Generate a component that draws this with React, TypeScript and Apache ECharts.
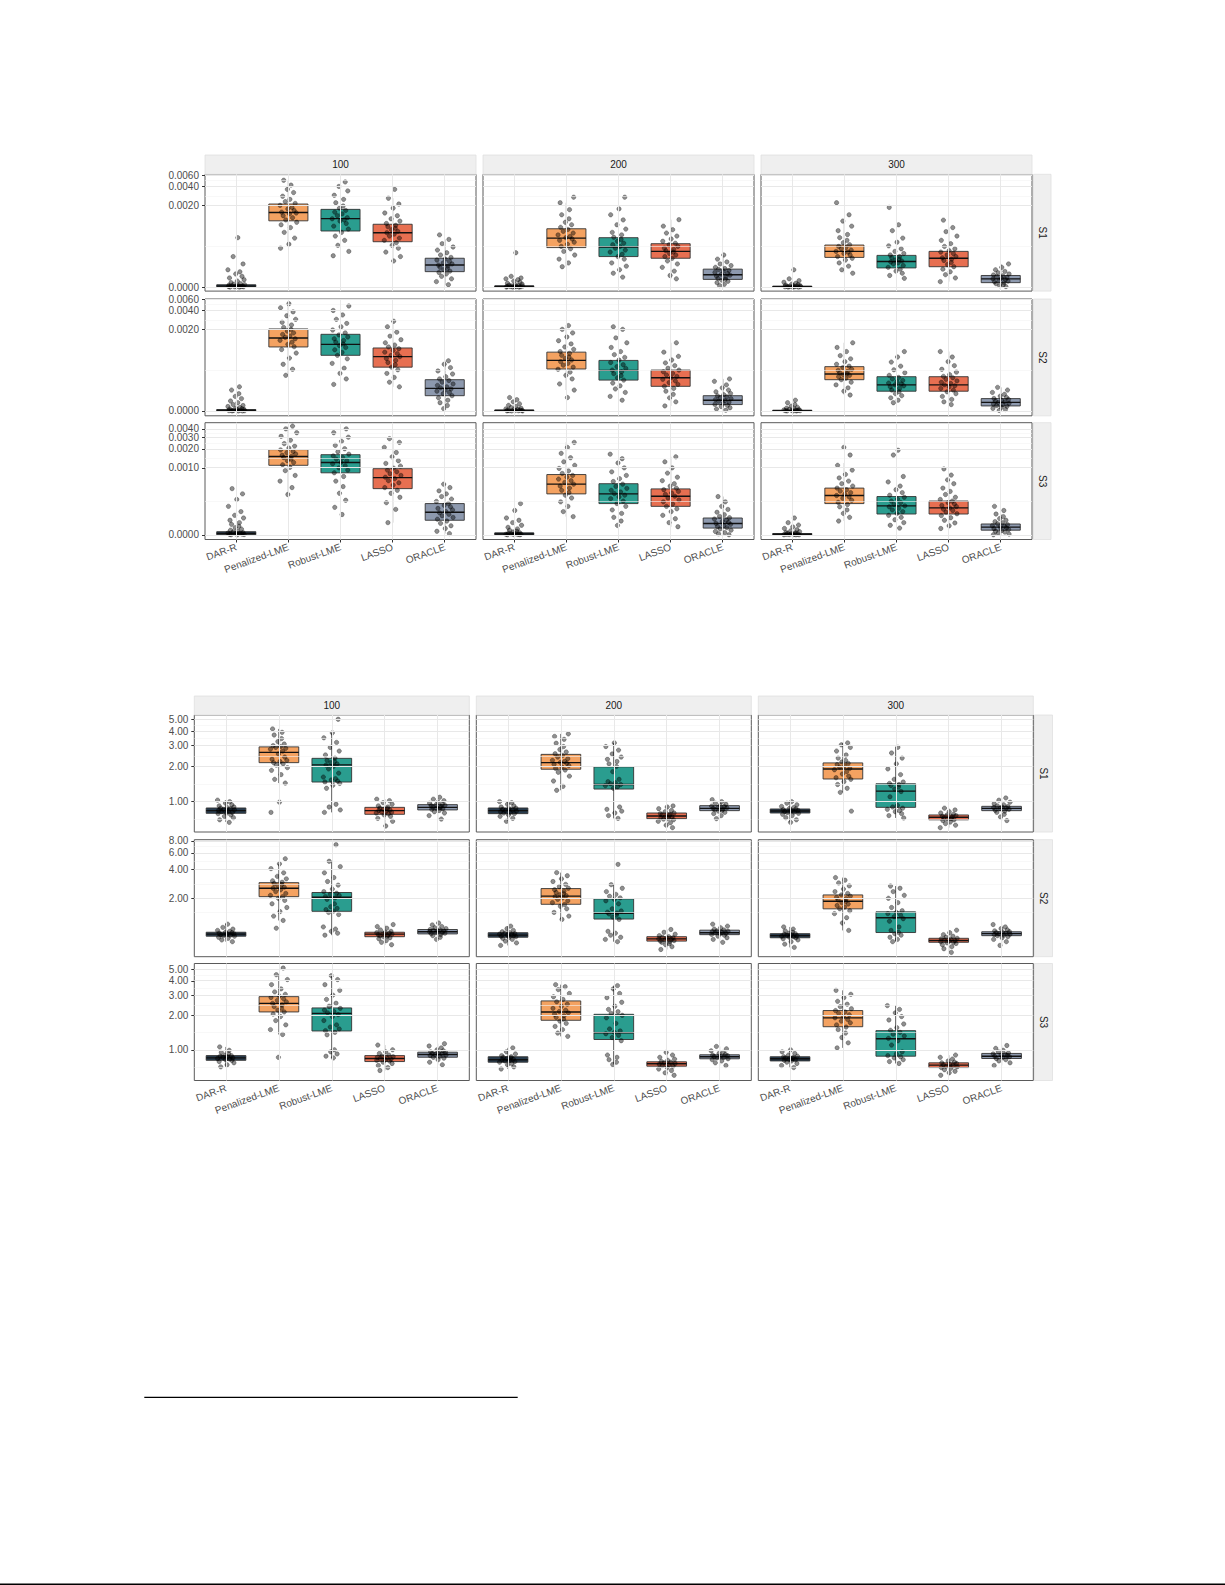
import React, { useEffect, useRef } from 'react';
import * as echarts from 'echarts';

// ---------- categories ----------
const METHODS = ['DAR-R', 'Penalized-LME', 'Robust-LME', 'LASSO', 'ORACLE'];
const SAMPLE_SIZES = ['100', '200', '300'];
const SETTINGS = ['S1', 'S2', 'S3'];
const METHOD_COLORS = ['#283C4E', '#F4A261', '#2A9D8F', '#E76F51', '#8D99AE'];
const JITTER = [0.06, -0.12, 0.14, -0.03, 0.09, -0.15, 0.01, 0.12, -0.08, 0.04, -0.14, 0.16, -0.05, 0.08, -0.1, 0.02, 0.15, -0.13, 0.11, -0.01, 0.07, -0.16, 0.13, -0.06, 0.03, -0.11, 0.1, -0.02, 0.05, -0.09];

// ---------- figure 1 (values in units of 1e-4, pseudo-log scale) ----------
const F1_UNIT = 1e-4;
const F1_SHIFT = 1.2;
const F1_TICKS = [[0, 20, 40, 60], [0, 20, 40, 60], [0, 10, 20, 30, 40]];
const F1_LIMITS = [[-0.16, 61.9], [-0.19, 60.5], [-0.175, 49.4]];

// [sample size][method] -> [lower whisker, Q1, median, Q3, upper whisker]
const F1_S1_BOX = [
  [[0, 0.01, 0.04, 0.1, 0.25], [3.9, 11.1, 15.3, 21, 50], [2.4, 7.4, 12.1, 17.2, 47], [1.8, 4.7, 6.9, 9.7, 26], [0.1, 0.86, 1.4, 2.1, 5.2]],
  [[0, 0, 0.02, 0.05, 0.15], [1.25, 3.6, 5.5, 8.1, 22], [0.5, 2.3, 3.7, 5.6, 17.7], [0.4, 2.1, 3.0, 4.3, 11.6], [0.06, 0.37, 0.65, 1.05, 2.5]],
  [[0, 0, 0.01, 0.04, 0.1], [0.75, 2.2, 3.0, 4.05, 11], [0.43, 1.15, 1.75, 2.45, 7.5], [0.25, 1.25, 2.1, 3.0, 8.5], [0.02, 0.2, 0.4, 0.6, 1.5]],
];
const F1_S1_PTS = [
  [
    [0, 0, 0.01, 0.01, 0.02, 0.02, 0.03, 0.04, 0.05, 0.06, 0.08, 0.1, 0.12, 0.15, 0.2, 0.28, 0.35, 0.45, 0.55, 0.7, 0.85, 1.0, 1.5, 2.3, 5.6],
    [3.5, 4.2, 5.5, 7, 8.5, 9.5, 10.5, 11.5, 12.5, 13.5, 14.5, 15, 15.5, 16.5, 17.5, 18.5, 20, 21.5, 23, 25, 28, 32, 36, 42, 50],
    [2.4, 3, 4, 5, 6, 7, 8, 9, 10, 11, 11.5, 12, 12.5, 13.5, 14.5, 15.5, 16.5, 18, 19.5, 22, 25, 29, 34, 40, 47],
    [1.8, 2.3, 2.9, 3.5, 4, 4.5, 5, 5.5, 6, 6.5, 6.9, 7.3, 7.8, 8.3, 8.8, 9.3, 10, 11, 12, 13.5, 15, 18, 21, 26, 36],
    [0.1, 0.25, 0.4, 0.55, 0.7, 0.8, 0.9, 1, 1.1, 1.2, 1.3, 1.4, 1.5, 1.6, 1.75, 1.9, 2, 2.2, 2.5, 2.8, 3.2, 3.7, 4.3, 5.2, 6.3],
  ],
  [
    [0, 0, 0, 0.01, 0.01, 0.02, 0.02, 0.03, 0.04, 0.05, 0.06, 0.08, 0.1, 0.13, 0.17, 0.22, 0.28, 0.35, 0.4, 0.45, 0.55, 2.8],
    [1.25, 1.6, 2, 2.5, 3, 3.4, 3.8, 4.2, 4.6, 5, 5.3, 5.6, 5.9, 6.3, 6.8, 7.3, 7.9, 8.6, 9.5, 10.5, 12, 14, 17, 22, 27],
    [0.5, 0.75, 1, 1.3, 1.6, 2, 2.3, 2.6, 2.9, 3.2, 3.5, 3.8, 4.1, 4.4, 4.8, 5.2, 5.7, 6.3, 7, 8, 9.5, 11.5, 14, 17.5, 27],
    [0.4, 0.6, 0.9, 1.2, 1.5, 1.8, 2.1, 2.3, 2.5, 2.7, 2.9, 3.1, 3.3, 3.5, 3.8, 4.1, 4.4, 4.8, 5.3, 6, 6.8, 7.8, 9, 11.6],
    [0.06, 0.12, 0.2, 0.27, 0.33, 0.38, 0.43, 0.5, 0.56, 0.62, 0.68, 0.74, 0.8, 0.88, 0.95, 1.02, 1.1, 1.2, 1.35, 1.5, 1.7, 2, 2.5],
  ],
  [
    [0, 0, 0, 0.01, 0.01, 0.02, 0.02, 0.03, 0.04, 0.05, 0.06, 0.08, 0.1, 0.13, 0.17, 0.22, 0.3, 0.4, 1.0],
    [0.75, 1, 1.3, 1.6, 1.9, 2.1, 2.3, 2.5, 2.7, 2.9, 3, 3.2, 3.4, 3.6, 3.8, 4.1, 4.5, 5, 5.6, 6.4, 7.5, 9, 11, 14, 22],
    [0.43, 0.6, 0.75, 0.9, 1.05, 1.2, 1.35, 1.5, 1.6, 1.7, 1.8, 1.9, 2, 2.15, 2.3, 2.5, 2.7, 3, 3.4, 3.9, 4.6, 5.5, 7.5, 9.5, 18.5],
    [0.25, 0.45, 0.65, 0.85, 1.05, 1.25, 1.45, 1.65, 1.85, 2, 2.15, 2.3, 2.5, 2.7, 2.9, 3.1, 3.4, 3.8, 4.3, 5, 6, 7.2, 8.5, 11.4],
    [0.02, 0.06, 0.1, 0.15, 0.2, 0.24, 0.28, 0.32, 0.36, 0.4, 0.44, 0.48, 0.53, 0.58, 0.63, 0.7, 0.78, 0.88, 1, 1.2, 1.5],
  ],
];

const F1_S2_BOX = [
  [[0, 0, 0.02, 0.06, 0.15], [3.0, 10.2, 14.4, 20.3, 51], [1.85, 7.3, 11.3, 16.6, 47], [1.6, 4.4, 6.9, 9.8, 27], [0.1, 0.85, 1.45, 2.4, 5.8]],
  [[0, 0, 0.02, 0.04, 0.1], [1.3, 4.05, 5.9, 8.3, 23], [0.55, 2.35, 3.8, 5.9, 20], [0.23, 1.65, 2.65, 3.85, 12], [0.03, 0.3, 0.55, 0.85, 2.5]],
  [[0, 0, 0.01, 0.03, 0.08], [0.9, 2.4, 3.2, 4.5, 12], [0.4, 1.2, 1.8, 2.8, 8.5], [0.3, 1.2, 1.8, 2.8, 8.5], [0.02, 0.23, 0.42, 0.65, 1.55]],
];
const F1_S2_PTS = [
  [
    [0, 0, 0, 0.01, 0.01, 0.02, 0.03, 0.04, 0.05, 0.06, 0.08, 0.1, 0.12, 0.15, 0.2, 0.25, 0.3, 0.4, 0.5, 0.65, 0.8, 1.0, 1.3, 1.6],
    [3, 4, 5, 6.5, 8, 9.2, 10.3, 11.3, 12.3, 13.2, 14, 14.8, 15.6, 16.5, 17.5, 18.7, 20, 21.5, 23.5, 26, 29, 33, 38, 44, 51],
    [1.85, 2.5, 3.3, 4.2, 5.2, 6.3, 7.3, 8.2, 9.1, 10, 10.8, 11.5, 12.3, 13.1, 14, 15, 16.2, 17.5, 19.5, 22, 25, 29, 34, 40, 47],
    [1.6, 2.1, 2.7, 3.3, 3.9, 4.4, 4.9, 5.4, 5.9, 6.4, 6.9, 7.3, 7.8, 8.3, 8.9, 9.5, 10.2, 11, 12, 13.5, 15.5, 18, 22, 27],
    [0.1, 0.25, 0.4, 0.55, 0.7, 0.85, 1, 1.1, 1.2, 1.3, 1.4, 1.5, 1.6, 1.75, 1.9, 2.1, 2.3, 2.5, 2.8, 3.2, 3.7, 4.3, 5, 5.8],
  ],
  [
    [0, 0, 0, 0.01, 0.01, 0.02, 0.02, 0.03, 0.04, 0.05, 0.07, 0.09, 0.12, 0.15, 0.2, 0.26, 0.34, 0.45, 0.58, 0.72],
    [0.72, 1.3, 1.9, 2.5, 3, 3.5, 4, 4.4, 4.8, 5.2, 5.6, 6, 6.4, 6.8, 7.3, 7.9, 8.5, 9.3, 10.2, 11.5, 13, 15, 17.5, 20, 23],
    [0.55, 0.8, 1.1, 1.4, 1.7, 2, 2.35, 2.65, 2.95, 3.25, 3.55, 3.85, 4.15, 4.5, 4.9, 5.4, 6, 6.7, 7.5, 8.5, 10, 12, 14.5, 20, 22],
    [0.23, 0.45, 0.7, 0.95, 1.2, 1.45, 1.65, 1.85, 2.05, 2.25, 2.45, 2.65, 2.85, 3.05, 3.3, 3.55, 3.85, 4.2, 4.7, 5.3, 6, 7, 8.3, 12],
    [0.03, 0.08, 0.14, 0.2, 0.26, 0.31, 0.36, 0.42, 0.48, 0.53, 0.58, 0.64, 0.7, 0.77, 0.84, 0.92, 1.02, 1.15, 1.3, 1.5, 1.8, 2.2, 2.5],
  ],
  [
    [0, 0, 0, 0.01, 0.01, 0.02, 0.02, 0.03, 0.04, 0.05, 0.07, 0.09, 0.12, 0.16, 0.22, 0.3, 0.4, 0.55],
    [0.9, 1.2, 1.5, 1.8, 2.1, 2.4, 2.6, 2.8, 3, 3.1, 3.25, 3.4, 3.6, 3.8, 4, 4.3, 4.6, 5, 5.6, 6.3, 7.2, 8.5, 10, 12],
    [0.4, 0.55, 0.7, 0.85, 1, 1.15, 1.3, 1.45, 1.6, 1.7, 1.8, 1.9, 2, 2.15, 2.3, 2.5, 2.7, 3, 3.4, 3.9, 4.6, 5.5, 6.8, 8.5],
    [0.3, 0.45, 0.6, 0.8, 1, 1.15, 1.3, 1.45, 1.6, 1.7, 1.8, 1.95, 2.1, 2.25, 2.45, 2.65, 2.85, 3.1, 3.5, 4, 4.7, 5.6, 6.8, 8.5],
    [0.02, 0.06, 0.11, 0.16, 0.21, 0.25, 0.29, 0.33, 0.37, 0.41, 0.45, 0.5, 0.55, 0.6, 0.66, 0.73, 0.82, 0.95, 1.1, 1.3, 1.55],
  ],
];

const F1_S3_BOX = [
  [[0, 0, 0.05, 0.13, 0.3], [3.4, 11, 15.2, 19.4, 44], [1.16, 8.3, 12.2, 16.2, 40], [0.6, 4.4, 6.9, 9.7, 28.5], [0.05, 0.75, 1.35, 2.2, 5.3]],
  [[0, 0, 0.03, 0.08, 0.2], [1.0, 3.5, 5.3, 7.76, 25], [0.44, 2.2, 3.5, 5.4, 16.5], [0.37, 1.9, 3.15, 4.35, 15], [0, 0.3, 0.55, 0.9, 3.1]],
  [[0, 0, 0.02, 0.05, 0.12], [0.7, 2.2, 3.25, 4.5, 12], [0.3, 1.2, 1.95, 3.1, 8], [0.28, 1.2, 1.75, 2.5, 6.3], [0, 0.2, 0.35, 0.52, 1.2]],
];
const F1_S3_PTS = [
  [
    [0, 0, 0.01, 0.02, 0.03, 0.04, 0.05, 0.07, 0.09, 0.12, 0.15, 0.2, 0.25, 0.32, 0.4, 0.5, 0.6, 0.75, 0.9, 1.1, 1.4, 1.9, 2.7, 3.5, 4.4],
    [3.4, 4.6, 6, 7.5, 9, 10.2, 11.2, 12.2, 13, 13.8, 14.6, 15.2, 15.9, 16.6, 17.4, 18.2, 19.2, 20.5, 22, 24, 27, 31, 35, 40, 44],
    [1.16, 1.8, 2.6, 3.6, 4.8, 6, 7.2, 8.3, 9.2, 10, 10.8, 11.6, 12.3, 13, 13.8, 14.6, 15.5, 16.5, 18, 20, 22.5, 26, 30, 35, 40],
    [0.6, 1.6, 2.3, 3, 3.6, 4.1, 4.6, 5.1, 5.6, 6.1, 6.6, 7, 7.5, 8, 8.6, 9.2, 9.9, 10.7, 11.8, 13, 15, 17.5, 21, 25, 28.5],
    [0.05, 0.15, 0.28, 0.42, 0.56, 0.7, 0.82, 0.94, 1.06, 1.18, 1.3, 1.42, 1.55, 1.7, 1.85, 2, 2.2, 2.45, 2.75, 3.1, 3.5, 4, 4.6, 5.3],
  ],
  [
    [0, 0, 0.01, 0.01, 0.02, 0.03, 0.04, 0.05, 0.07, 0.09, 0.12, 0.15, 0.2, 0.26, 0.34, 0.45, 0.6, 0.75, 0.9, 1.5, 2.2],
    [1, 1.4, 1.9, 2.4, 2.9, 3.3, 3.7, 4.1, 4.5, 4.9, 5.3, 5.7, 6.1, 6.5, 7, 7.5, 8.1, 8.9, 9.8, 11, 12.5, 14.5, 17, 21, 25],
    [0.44, 0.7, 0.95, 1.25, 1.55, 1.9, 2.2, 2.5, 2.8, 3.05, 3.3, 3.55, 3.8, 4.1, 4.45, 4.85, 5.3, 5.9, 6.6, 7.5, 8.6, 10, 12, 14, 16.5],
    [0.37, 0.6, 0.85, 1.1, 1.4, 1.65, 1.9, 2.15, 2.4, 2.65, 2.9, 3.15, 3.4, 3.65, 3.9, 4.2, 4.5, 4.9, 5.4, 6.1, 7, 8.2, 10, 12.5, 15],
    [0, 0.04, 0.09, 0.14, 0.2, 0.26, 0.32, 0.38, 0.44, 0.5, 0.56, 0.62, 0.68, 0.75, 0.83, 0.92, 1.02, 1.15, 1.35, 1.6, 1.9, 2.4, 3.1],
  ],
  [
    [0, 0, 0, 0.01, 0.01, 0.02, 0.03, 0.04, 0.05, 0.06, 0.08, 0.1, 0.13, 0.17, 0.22, 0.28, 0.36, 0.46, 0.6, 0.9],
    [0.7, 0.95, 1.25, 1.55, 1.85, 2.1, 2.35, 2.6, 2.85, 3.05, 3.25, 3.45, 3.7, 3.95, 4.2, 4.5, 4.9, 5.4, 6, 6.8, 7.8, 9.2, 11, 16, 21],
    [0.3, 0.45, 0.6, 0.78, 0.95, 1.1, 1.25, 1.4, 1.55, 1.7, 1.85, 1.95, 2.1, 2.3, 2.5, 2.75, 3, 3.3, 3.7, 4.2, 4.9, 5.8, 7.2, 16, 19],
    [0.28, 0.42, 0.58, 0.75, 0.92, 1.08, 1.22, 1.36, 1.5, 1.62, 1.75, 1.88, 2, 2.15, 2.3, 2.5, 2.7, 3, 3.4, 3.9, 4.5, 5.4, 6.3, 7.6, 9.6],
    [0, 0.03, 0.07, 0.11, 0.15, 0.19, 0.23, 0.27, 0.31, 0.35, 0.39, 0.43, 0.48, 0.53, 0.59, 0.66, 0.75, 0.86, 1, 1.2, 1.5, 1.9],
  ],
];

// ---------- figure 2 (log scale) ----------
const F2_TICKS = [[1, 2, 3, 4, 5], [2, 4, 6, 8], [1, 2, 3, 4, 5]];
const F2_LIMITS = [[0.551, 5.48], [0.487, 8.25], [0.54, 5.66]];

const F2_S1_BOX = [
  [[0.67, 0.795, 0.838, 0.883, 1.03], [1.44, 2.15, 2.63, 2.93, 4.17], [0.81, 1.47, 2.06, 2.34, 3.86], [0.62, 0.78, 0.838, 0.894, 1.05], [0.71, 0.85, 0.894, 0.943, 1.09]],
  [[0.68, 0.79, 0.838, 0.883, 1.0], [1.25, 1.89, 2.15, 2.53, 3.78], [0.72, 1.28, 1.4, 1.98, 3.17], [0.6, 0.716, 0.755, 0.8, 0.92], [0.716, 0.838, 0.877, 0.924, 1.04]],
  [[0.666, 0.8, 0.833, 0.866, 1.0], [1.2, 1.56, 1.9, 2.14, 3.17], [0.726, 0.894, 1.23, 1.42, 2.91], [0.6, 0.7, 0.735, 0.77, 0.88], [0.69, 0.838, 0.877, 0.912, 1.075]],
];
const F2_S1_PTS = [
  [
    [0.666, 0.7, 0.73, 0.75, 0.77, 0.79, 0.8, 0.81, 0.82, 0.83, 0.84, 0.85, 0.86, 0.87, 0.88, 0.89, 0.9, 0.92, 0.94, 0.97, 1.0, 1.03],
    [0.81, 0.99, 1.44, 1.55, 1.7, 1.85, 1.95, 2.05, 2.1, 2.15, 2.2, 2.25, 2.3, 2.4, 2.55, 2.7, 2.8, 2.85, 2.9, 2.95, 3.0, 3.1, 3.25, 3.45, 3.7, 3.9, 4.17],
    [0.81, 0.85, 0.9, 0.95, 1.3, 1.38, 1.43, 1.47, 1.5, 1.53, 1.57, 1.62, 1.75, 1.9, 2.0, 2.05, 2.1, 2.15, 2.2, 2.25, 2.35, 2.5, 2.7, 2.9, 3.2, 3.5, 3.86, 5.04],
    [0.62, 0.68, 0.72, 0.75, 0.77, 0.79, 0.8, 0.81, 0.82, 0.83, 0.84, 0.85, 0.86, 0.87, 0.88, 0.9, 0.92, 0.95, 0.98, 1.02, 1.05],
    [0.71, 0.76, 0.8, 0.82, 0.84, 0.86, 0.87, 0.88, 0.89, 0.9, 0.91, 0.92, 0.93, 0.94, 0.95, 0.97, 0.99, 1.02, 1.05, 1.09],
  ],
  [
    [0.68, 0.72, 0.75, 0.77, 0.79, 0.8, 0.81, 0.82, 0.83, 0.84, 0.85, 0.86, 0.87, 0.88, 0.9, 0.92, 0.95, 0.98, 1.0],
    [1.25, 1.35, 1.5, 1.65, 1.78, 1.86, 1.92, 1.98, 2.03, 2.08, 2.12, 2.16, 2.2, 2.25, 2.32, 2.4, 2.48, 2.56, 2.65, 2.78, 2.95, 3.15, 3.4, 3.6, 3.78],
    [0.72, 0.76, 0.8, 0.83, 0.86, 0.9, 1.3, 1.34, 1.37, 1.4, 1.42, 1.45, 1.48, 1.55, 1.8, 2.0, 2.1, 2.2, 2.3, 2.4, 2.55, 2.75, 2.95, 3.17],
    [0.6, 0.63, 0.66, 0.68, 0.7, 0.71, 0.72, 0.73, 0.74, 0.75, 0.76, 0.77, 0.78, 0.79, 0.8, 0.82, 0.84, 0.87, 0.9, 0.92],
    [0.716, 0.76, 0.79, 0.81, 0.83, 0.845, 0.855, 0.865, 0.875, 0.885, 0.895, 0.905, 0.915, 0.93, 0.95, 0.97, 1.0, 1.04],
  ],
  [
    [0.666, 0.7, 0.73, 0.76, 0.78, 0.795, 0.805, 0.815, 0.825, 0.835, 0.845, 0.855, 0.865, 0.875, 0.89, 0.91, 0.94, 0.97, 1.0],
    [0.83, 1.2, 1.3, 1.4, 1.48, 1.55, 1.6, 1.65, 1.72, 1.8, 1.87, 1.92, 1.97, 2.02, 2.07, 2.12, 2.18, 2.25, 2.35, 2.5, 2.7, 2.9, 3.05, 3.17],
    [0.726, 0.76, 0.79, 0.82, 0.84, 0.86, 0.88, 0.9, 0.93, 1.1, 1.22, 1.28, 1.33, 1.37, 1.4, 1.43, 1.47, 1.55, 1.7, 1.9, 2.1, 2.35, 2.6, 2.91],
    [0.6, 0.63, 0.65, 0.67, 0.69, 0.7, 0.71, 0.72, 0.73, 0.74, 0.75, 0.76, 0.77, 0.78, 0.8, 0.82, 0.85, 0.88],
    [0.69, 0.74, 0.78, 0.81, 0.83, 0.845, 0.86, 0.87, 0.88, 0.89, 0.9, 0.91, 0.92, 0.94, 0.96, 0.99, 1.03, 1.075],
  ],
];

const F2_S2_BOX = [
  [[0.7, 0.8, 0.84, 0.88, 1.07], [1.17, 2.08, 2.55, 2.92, 4.6], [0.82, 1.46, 2.05, 2.3, 4.9], [0.65, 0.79, 0.84, 0.88, 1.06], [0.74, 0.845, 0.89, 0.94, 1.1]],
  [[0.64, 0.78, 0.82, 0.87, 1.02], [1.2, 1.73, 2.11, 2.53, 3.72], [0.7, 1.21, 1.39, 1.97, 2.78], [0.58, 0.71, 0.75, 0.79, 0.94], [0.69, 0.83, 0.87, 0.925, 1.07]],
  [[0.61, 0.77, 0.81, 0.85, 1.0], [0.92, 1.55, 1.86, 2.17, 3.3], [0.7, 0.874, 1.25, 1.44, 2.69], [0.54, 0.69, 0.72, 0.76, 0.925], [0.64, 0.81, 0.85, 0.89, 1.06]],
];
const F2_S2_PTS = [
  [
    [0.7, 0.73, 0.76, 0.78, 0.8, 0.81, 0.82, 0.83, 0.84, 0.85, 0.86, 0.87, 0.88, 0.9, 0.92, 0.95, 0.99, 1.07],
    [0.97, 1.17, 1.3, 1.45, 1.6, 1.75, 1.9, 2.0, 2.08, 2.15, 2.25, 2.35, 2.45, 2.55, 2.62, 2.7, 2.78, 2.86, 2.95, 3.05, 3.2, 3.4, 3.7, 4.1, 4.6, 5.2],
    [0.82, 0.86, 0.9, 0.95, 1.0, 1.35, 1.42, 1.47, 1.52, 1.57, 1.63, 1.75, 1.95, 2.02, 2.08, 2.14, 2.2, 2.26, 2.35, 2.5, 2.75, 3.0, 3.3, 3.7, 4.3, 4.9, 7.3],
    [0.65, 0.69, 0.72, 0.75, 0.77, 0.79, 0.8, 0.81, 0.82, 0.83, 0.84, 0.85, 0.86, 0.87, 0.88, 0.9, 0.93, 0.97, 1.01, 1.06],
    [0.74, 0.78, 0.81, 0.83, 0.85, 0.86, 0.87, 0.88, 0.89, 0.9, 0.91, 0.92, 0.93, 0.94, 0.96, 0.98, 1.01, 1.05, 1.1],
  ],
  [
    [0.64, 0.68, 0.71, 0.74, 0.76, 0.78, 0.79, 0.8, 0.81, 0.82, 0.83, 0.84, 0.85, 0.86, 0.87, 0.89, 0.92, 0.96, 1.02],
    [1.2, 1.3, 1.42, 1.55, 1.65, 1.72, 1.8, 1.88, 1.95, 2.02, 2.08, 2.13, 2.18, 2.24, 2.3, 2.38, 2.46, 2.55, 2.65, 2.8, 3.0, 3.2, 3.45, 3.72],
    [0.7, 0.74, 0.78, 0.82, 0.86, 0.9, 1.2, 1.27, 1.33, 1.37, 1.4, 1.43, 1.47, 1.55, 1.75, 1.88, 1.95, 2.02, 2.1, 2.2, 2.35, 2.55, 2.78, 4.55],
    [0.58, 0.62, 0.65, 0.67, 0.69, 0.7, 0.71, 0.72, 0.73, 0.74, 0.75, 0.76, 0.77, 0.78, 0.79, 0.81, 0.84, 0.88, 0.94],
    [0.69, 0.74, 0.77, 0.8, 0.82, 0.835, 0.85, 0.86, 0.87, 0.88, 0.89, 0.9, 0.91, 0.93, 0.95, 0.98, 1.02, 1.07],
  ],
  [
    [0.61, 0.66, 0.7, 0.73, 0.75, 0.77, 0.78, 0.79, 0.8, 0.81, 0.82, 0.83, 0.84, 0.85, 0.86, 0.88, 0.91, 0.95, 1.0],
    [0.92, 1.1, 1.25, 1.38, 1.48, 1.55, 1.62, 1.68, 1.74, 1.8, 1.86, 1.92, 1.98, 2.04, 2.1, 2.17, 2.25, 2.35, 2.5, 2.7, 2.9, 3.1, 3.3],
    [0.7, 0.74, 0.78, 0.82, 0.85, 0.88, 0.92, 1.0, 1.15, 1.22, 1.28, 1.33, 1.38, 1.42, 1.48, 1.6, 1.8, 2.0, 2.15, 2.35, 2.55, 2.69],
    [0.54, 0.59, 0.62, 0.65, 0.67, 0.68, 0.69, 0.7, 0.71, 0.72, 0.73, 0.74, 0.75, 0.76, 0.78, 0.8, 0.83, 0.87, 0.925],
    [0.64, 0.7, 0.74, 0.77, 0.79, 0.81, 0.82, 0.83, 0.84, 0.85, 0.86, 0.87, 0.88, 0.89, 0.91, 0.93, 0.96, 1.0, 1.06],
  ],
];

const F2_S3_BOX = [
  [[0.71, 0.81, 0.85, 0.89, 1.06], [1.36, 2.14, 2.54, 2.91, 4.52], [0.85, 1.46, 2.08, 2.32, 4.43], [0.66, 0.79, 0.84, 0.89, 1.1], [0.74, 0.862, 0.91, 0.953, 1.13]],
  [[0.68, 0.78, 0.82, 0.87, 1.04], [1.31, 1.81, 2.14, 2.67, 3.7], [0.745, 1.23, 1.41, 2.04, 3.63], [0.6, 0.72, 0.755, 0.786, 0.95], [0.73, 0.835, 0.87, 0.905, 1.07]],
  [[0.7, 0.8, 0.835, 0.87, 1.0], [1.04, 1.59, 1.9, 2.2, 3.3], [0.76, 0.88, 1.25, 1.47, 2.43], [0.6, 0.7, 0.735, 0.77, 0.9], [0.73, 0.84, 0.88, 0.93, 1.09]],
];
const F2_S3_PTS = [
  [
    [0.71, 0.74, 0.77, 0.79, 0.81, 0.82, 0.83, 0.84, 0.85, 0.86, 0.87, 0.88, 0.89, 0.9, 0.92, 0.95, 0.99, 1.06],
    [0.86, 1.36, 1.5, 1.65, 1.8, 1.95, 2.05, 2.14, 2.22, 2.3, 2.38, 2.46, 2.54, 2.62, 2.7, 2.78, 2.86, 2.94, 3.05, 3.2, 3.4, 3.7, 4.1, 4.52, 5.17],
    [0.85, 0.88, 0.92, 0.96, 1.0, 1.35, 1.42, 1.47, 1.52, 1.58, 1.65, 1.8, 1.95, 2.03, 2.1, 2.16, 2.22, 2.3, 2.4, 2.55, 2.75, 3.0, 3.3, 3.7, 4.1, 4.43],
    [0.66, 0.7, 0.73, 0.76, 0.78, 0.8, 0.81, 0.82, 0.83, 0.84, 0.85, 0.86, 0.87, 0.88, 0.9, 0.93, 0.96, 1.0, 1.1],
    [0.74, 0.78, 0.82, 0.845, 0.86, 0.875, 0.89, 0.9, 0.91, 0.92, 0.93, 0.94, 0.95, 0.96, 0.98, 1.0, 1.04, 1.08, 1.13],
  ],
  [
    [0.68, 0.71, 0.74, 0.76, 0.78, 0.79, 0.8, 0.81, 0.82, 0.83, 0.84, 0.85, 0.86, 0.87, 0.89, 0.92, 0.96, 1.04],
    [1.31, 1.4, 1.5, 1.6, 1.7, 1.78, 1.85, 1.92, 1.98, 2.04, 2.1, 2.16, 2.22, 2.3, 2.4, 2.5, 2.62, 2.75, 2.9, 3.1, 3.35, 3.55, 3.7],
    [0.745, 0.78, 0.82, 0.86, 0.9, 1.2, 1.28, 1.34, 1.38, 1.42, 1.46, 1.52, 1.7, 1.9, 2.0, 2.08, 2.15, 2.25, 2.4, 2.6, 2.85, 3.1, 3.4, 3.63],
    [0.6, 0.63, 0.66, 0.68, 0.7, 0.72, 0.73, 0.74, 0.75, 0.76, 0.77, 0.78, 0.79, 0.81, 0.83, 0.86, 0.9, 0.95],
    [0.73, 0.77, 0.8, 0.82, 0.835, 0.85, 0.86, 0.87, 0.88, 0.89, 0.9, 0.91, 0.93, 0.95, 0.98, 1.02, 1.07],
  ],
  [
    [0.7, 0.73, 0.76, 0.78, 0.8, 0.81, 0.82, 0.83, 0.84, 0.85, 0.86, 0.87, 0.88, 0.9, 0.93, 0.96, 1.0],
    [1.04, 1.15, 1.28, 1.4, 1.5, 1.58, 1.65, 1.72, 1.78, 1.84, 1.9, 1.96, 2.02, 2.08, 2.14, 2.2, 2.28, 2.38, 2.5, 2.65, 2.85, 3.05, 3.3],
    [0.76, 0.79, 0.82, 0.85, 0.87, 0.89, 0.92, 0.96, 1.1, 1.2, 1.26, 1.32, 1.37, 1.42, 1.48, 1.56, 1.68, 1.82, 1.95, 2.1, 2.25, 2.43],
    [0.6, 0.63, 0.65, 0.67, 0.69, 0.7, 0.71, 0.72, 0.73, 0.74, 0.75, 0.76, 0.77, 0.78, 0.8, 0.83, 0.86, 0.9],
    [0.73, 0.77, 0.8, 0.82, 0.84, 0.855, 0.87, 0.88, 0.89, 0.9, 0.91, 0.92, 0.94, 0.96, 0.99, 1.03, 1.09],
  ],
];

// ---------- layout & style ----------
const FONT = "'Liberation Sans', Arial, Helvetica, sans-serif";
const LABEL_COLOR = '#4D4D4D';
const STRIP_FILL = '#EFEFEF';
const STRIP_STROKE = '#E0E0E0';
const GRID_MAJOR = { color: '#E8E8E8', width: 1, type: 'solid' };
const GRID_MINOR = { color: '#F3F3F3', width: 0.6, type: 'solid' };

const FIG1_LAYOUT = { cols: [205, 483, 761], width: 271, rows: [174.3, 299, 422.7], height: 116.8, stripTop: 155, stripH: 19.3, rightX: 1033.5, rightW: 17.5 };
const FIG2_LAYOUT = { cols: [194.3, 476.3, 758.3], width: 275, rows: [715, 839.7, 963.5], height: 117, stripTop: 696, stripH: 19, rightX: 1034.5, rightW: 18 };

const f1T = (v: number) => Math.log(v + F1_SHIFT);
const f2T = (v: number) => Math.log(v);

function breaks(ticks: number[], tf: (v: number) => number, lim: number[]) {
  const b = ticks.map(tf);
  const lo = tf(lim[0]);
  const hi = tf(lim[1]);
  const bd = b[1] - b[0];
  const ext = b.slice();
  if (lo < b[0]) ext.unshift(b[0] - bd);
  if (hi > b[b.length - 1]) ext.push(b[b.length - 1] + bd);
  const minor: number[] = [];
  for (let i = 0; i < ext.length - 1; i++) minor.push((ext[i] + ext[i + 1]) / 2);
  return {
    major: b.filter((v) => v >= lo && v <= hi),
    minor: minor.filter((v) => v >= lo && v <= hi),
  };
}

function renderBox(params: any, api: any) {
  const x = api.value(0);
  const lo = api.coord([x, api.value(1)]);
  const q1 = api.coord([x, api.value(2)]);
  const md = api.coord([x, api.value(3)]);
  const q3 = api.coord([x, api.value(4)]);
  const hi = api.coord([x, api.value(5)]);
  const w = api.size([0.75, 0])[0];
  const color = METHOD_COLORS[api.value(6)];
  const line = { stroke: '#262626', lineWidth: 0.9 };
  return {
    type: 'group',
    children: [
      { type: 'line', shape: { x1: lo[0], y1: lo[1], x2: q1[0], y2: q1[1] }, style: line },
      { type: 'line', shape: { x1: q3[0], y1: q3[1], x2: hi[0], y2: hi[1] }, style: line },
      { type: 'rect', shape: { x: q3[0] - w / 2, y: q3[1], width: w, height: Math.max(q1[1] - q3[1], 1.2) }, style: { fill: color, stroke: '#333333', lineWidth: 0.9 } },
      { type: 'line', shape: { x1: md[0] - w / 2, y1: md[1], x2: md[0] + w / 2, y2: md[1] }, style: { stroke: '#111111', lineWidth: 1.4 } },
    ],
  };
}

function yLabel(tv: number[], ticks: number[], fmt: (t: number) => string, values: number[]) {
  return {
    show: true, customValues: values, margin: 6, fontSize: 10, fontFamily: FONT, color: LABEL_COLOR,
    showMinLabel: true, showMaxLabel: true, hideOverlap: false,
    formatter: (v: number) => {
      let best = 0;
      tv.forEach((t, i) => { if (Math.abs(t - v) < Math.abs(tv[best] - v)) best = i; });
      return fmt(ticks[best]);
    },
  };
}

function buildOption() {
  const grid: any[] = [];
  const xAxis: any[] = [];
  const yAxis: any[] = [];
  const extraY: any[] = [];
  const series: any[] = [];
  const graphic: any[] = [];

  const figures = [
    { L: FIG1_LAYOUT, boxes: [F1_S1_BOX, F1_S2_BOX, F1_S3_BOX], pts: [F1_S1_PTS, F1_S2_PTS, F1_S3_PTS], ticks: F1_TICKS, lims: F1_LIMITS, tf: f1T, fmt: (t: number) => (t * F1_UNIT).toFixed(4) },
    { L: FIG2_LAYOUT, boxes: [F2_S1_BOX, F2_S2_BOX, F2_S3_BOX], pts: [F2_S1_PTS, F2_S2_PTS, F2_S3_PTS], ticks: F2_TICKS, lims: F2_LIMITS, tf: f2T, fmt: (t: number) => t.toFixed(2) },
  ];

  figures.forEach((fig) => {
    const L = fig.L;
    SAMPLE_SIZES.forEach((n, c) => {
      graphic.push({ type: 'rect', shape: { x: L.cols[c], y: L.stripTop, width: L.width, height: L.stripH }, style: { fill: STRIP_FILL, stroke: STRIP_STROKE, lineWidth: 0.8 }, silent: true });
      graphic.push({ type: 'text', x: L.cols[c] + L.width / 2, y: L.stripTop + L.stripH / 2, style: { text: n, fontSize: 10, fontFamily: FONT, fill: '#1A1A1A', align: 'center', verticalAlign: 'middle', textAlign: 'center', textVerticalAlign: 'middle' }, silent: true });
    });
    SETTINGS.forEach((s, r) => {
      graphic.push({ type: 'rect', shape: { x: L.rightX, y: L.rows[r], width: L.rightW, height: L.height }, style: { fill: STRIP_FILL, stroke: STRIP_STROKE, lineWidth: 0.8 }, silent: true });
      graphic.push({ type: 'text', x: L.rightX + L.rightW / 2, y: L.rows[r] + L.height / 2, rotation: -Math.PI / 2, style: { text: s, fontSize: 10, fontFamily: FONT, fill: '#1A1A1A', align: 'center', verticalAlign: 'middle', textAlign: 'center', textVerticalAlign: 'middle' }, silent: true });
    });

    for (let r = 0; r < 3; r++) {
      const ticks = fig.ticks[r];
      const tv = ticks.map(fig.tf);
      const br = breaks(ticks, fig.tf, fig.lims[r]);
      const yMin = fig.tf(fig.lims[r][0]);
      const yMax = fig.tf(fig.lims[r][1]);
      for (let c = 0; c < 3; c++) {
        const gi = grid.length;
        grid.push({ left: L.cols[c], top: L.rows[r], width: L.width, height: L.height, show: true, backgroundColor: '#FFFFFF', borderColor: '#5A5A5A', borderWidth: 1, containLabel: false, outerBoundsMode: 'none' });
        const bottomRow = r === 2;
        const leftCol = c === 0;
        xAxis.push({
          gridIndex: gi, type: 'value', min: 0.4, max: 5.6,
          axisLine: { show: false }, splitLine: { show: false },
          axisTick: bottomRow ? { show: true, customValues: [1, 2, 3, 4, 5], length: 3, lineStyle: { color: '#333333', width: 1 } } : { show: false },
          axisLabel: bottomRow ? { show: true, customValues: [1, 2, 3, 4, 5], formatter: (v: number) => METHODS[Math.round(v) - 1], rotate: 20, margin: 7, fontSize: 10, fontFamily: FONT, color: LABEL_COLOR, hideOverlap: false, showMinLabel: true, showMaxLabel: true } : { show: false },
        });
        yAxis.push({
          gridIndex: gi, type: 'value', min: yMin, max: yMax,
          axisLine: { show: false }, splitLine: { show: false },
          axisTick: leftCol ? { show: true, customValues: tv, length: 3, lineStyle: { color: '#333333', width: 1 } } : { show: false },
          axisLabel: leftCol ? yLabel(tv, ticks, fig.fmt, tv.slice(0, tv.length - 1)) : { show: false },
        });
        if (leftCol) {
          // the top tick label sits on its own label-only axis so that crowded labels are all kept
          extraY.push({
            gridIndex: gi, type: 'value', min: yMin, max: yMax, position: 'left',
            axisLine: { show: false }, splitLine: { show: false }, axisTick: { show: false },
            axisLabel: yLabel(tv, ticks, fig.fmt, [tv[tv.length - 1]]),
          });
        }

        series.push({
          type: 'scatter', xAxisIndex: gi, yAxisIndex: gi, data: [], z: 1, silent: true,
          markLine: {
            silent: true, symbol: ['none', 'none'], label: { show: false }, animation: false,
            data: [
              ...br.minor.map((y) => ({ yAxis: y, lineStyle: GRID_MINOR })),
              ...br.major.map((y) => ({ yAxis: y, lineStyle: GRID_MAJOR })),
              ...[1, 2, 3, 4, 5].map((x) => ({ xAxis: x, lineStyle: GRID_MAJOR })),
            ],
          },
        });

        const boxRows = fig.boxes[r][c];
        series.push({
          type: 'custom', xAxisIndex: gi, yAxisIndex: gi, z: 2, silent: true, clip: true,
          dimensions: ['x', 'lo', 'q1', 'med', 'q3', 'hi', 'm'],
          encode: { x: 0, y: [1, 2, 3, 4, 5] },
          renderItem: renderBox,
          data: boxRows.map((b, m) => [m + 1, ...b.map(fig.tf), m]),
        });

        const ptsData: number[][] = [];
        fig.pts[r][c].forEach((list, m) => {
          list.forEach((v, i) => {
            ptsData.push([m + 1 + JITTER[(i + m * 5 + c * 3 + r * 7) % JITTER.length], fig.tf(v)]);
          });
        });
        series.push({
          type: 'scatter', xAxisIndex: gi, yAxisIndex: gi, z: 3, silent: true,
          symbol: 'circle', symbolSize: 4.4,
          itemStyle: { color: 'rgba(0,0,0,0.55)', borderColor: 'rgba(0,0,0,0.7)', borderWidth: 0.5 },
          data: ptsData,
        });
      }
    }
  });

  graphic.push({ type: 'line', shape: { x1: 144.3, y1: 1397.3, x2: 517.7, y2: 1397.3 }, style: { stroke: '#000000', lineWidth: 1.2 }, silent: true });
  graphic.push({ type: 'line', shape: { x1: 0, y1: 1584.3, x2: 1225, y2: 1584.3 }, style: { stroke: '#000000', lineWidth: 1.5 }, silent: true });

  return {
    animation: false,
    backgroundColor: '#FFFFFF',
    grid, xAxis, yAxis: yAxis.concat(extraY), series, graphic,
  };
}

export default function App() {
  const ref = useRef<HTMLDivElement>(null);
  useEffect(() => {
    const chart = echarts.init(ref.current as HTMLDivElement, undefined, { renderer: 'svg' });
    chart.setOption(buildOption() as any);
    return () => chart.dispose();
  }, []);
  return <div ref={ref} style={{ position: 'absolute', left: 0, top: 0, width: 1225, height: 1585, background: '#fff' }} />;
}
